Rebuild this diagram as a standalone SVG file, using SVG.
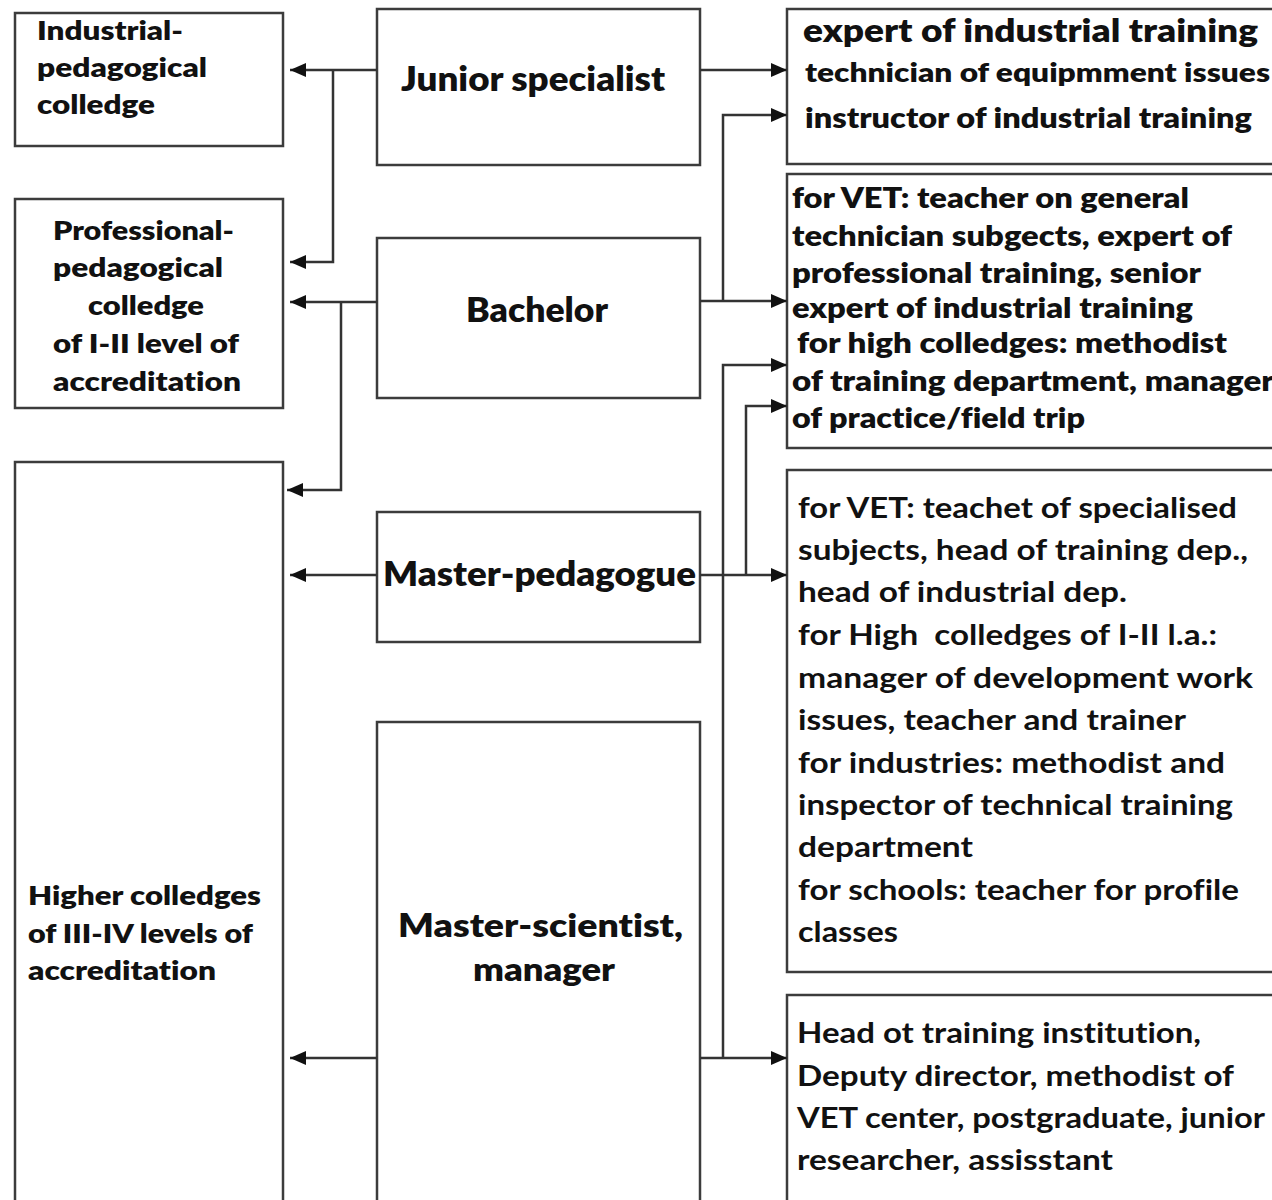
<svg xmlns="http://www.w3.org/2000/svg" width="1272" height="1200" viewBox="0 0 1272 1200">
<style>
.box{fill:#fff;stroke:#3c3c3c;stroke-width:2.5}
.t{font-family:Lato,"Open Sans","Liberation Sans",sans-serif;fill:#111;font-weight:800;font-variant-ligatures:none}
.m{font-weight:700}
.ln{fill:none;stroke:#333;stroke-width:2.5}
</style>
<defs>
<marker id="ah" markerUnits="userSpaceOnUse" markerWidth="18" markerHeight="16" refX="16" refY="7" orient="auto">
<path d="M0,0 L16,7 L0,14 z" fill="#111"/>
</marker>
</defs>
<rect width="1272" height="1200" fill="#fff"/>

<g id="industrial-college">
<rect class="box" x="15" y="13" width="268" height="133"/>
<text class="t" font-size="27"><tspan x="37" y="40" textLength="146" lengthAdjust="spacingAndGlyphs">Industrial-</tspan><tspan x="37" y="77" textLength="170" lengthAdjust="spacingAndGlyphs">pedagogical</tspan><tspan x="37" y="114" textLength="118" lengthAdjust="spacingAndGlyphs">colledge</tspan></text>
</g>

<g id="professional-college">
<rect class="box" x="15" y="199" width="268" height="209"/>
<text class="t" font-size="27"><tspan x="53" y="240" textLength="181" lengthAdjust="spacingAndGlyphs">Professional-</tspan><tspan x="53" y="277" textLength="170" lengthAdjust="spacingAndGlyphs">pedagogical</tspan><tspan x="88" y="315" textLength="116" lengthAdjust="spacingAndGlyphs">colledge</tspan><tspan x="53" y="353" textLength="186" lengthAdjust="spacingAndGlyphs">of I-II level of</tspan><tspan x="53" y="391" textLength="188" lengthAdjust="spacingAndGlyphs">accreditation</tspan></text>
</g>

<g id="higher-colleges">
<rect class="box" x="15" y="462" width="268" height="760"/>
<text class="t" font-size="27"><tspan x="28" y="905" textLength="233" lengthAdjust="spacingAndGlyphs">Higher colledges</tspan><tspan x="28" y="943" textLength="225" lengthAdjust="spacingAndGlyphs">of III-IV levels of</tspan><tspan x="28" y="980" textLength="188" lengthAdjust="spacingAndGlyphs">accreditation</tspan></text>
</g>

<g id="junior-specialist">
<rect class="box" x="377" y="9" width="323" height="156"/>
<text class="t" font-size="33" x="401" y="91" textLength="264" lengthAdjust="spacingAndGlyphs">Junior specialist</text>
</g>

<g id="bachelor">
<rect class="box" x="377" y="238" width="323" height="160"/>
<text class="t" font-size="33" x="466" y="322" textLength="142" lengthAdjust="spacingAndGlyphs">Bachelor</text>
</g>

<g id="master-pedagogue">
<rect class="box" x="377" y="512" width="323" height="130"/>
<text class="t" font-size="33" x="383" y="586" textLength="313" lengthAdjust="spacingAndGlyphs">Master-pedagogue</text>
</g>

<g id="master-scientist">
<rect class="box" x="377" y="722" width="323" height="500"/>
<text class="t" font-size="32"><tspan x="398" y="937" textLength="285" lengthAdjust="spacingAndGlyphs">Master-scientist,</tspan><tspan x="473" y="981" textLength="142" lengthAdjust="spacingAndGlyphs">manager</tspan></text>
</g>

<g id="junior-positions">
<rect class="box" x="787" y="9" width="500" height="155"/>
<text class="t"><tspan x="803" y="42" font-size="32" textLength="455" lengthAdjust="spacingAndGlyphs">expert of industrial training</tspan><tspan x="805" y="82" font-size="26" textLength="465" lengthAdjust="spacingAndGlyphs">technician of equipmment issues</tspan><tspan x="805" y="128" font-size="29" textLength="447" lengthAdjust="spacingAndGlyphs">instructor of industrial training</tspan></text>
</g>

<g id="bachelor-positions">
<rect class="box" x="787" y="174" width="500" height="274"/>
<text class="t" font-size="29"><tspan x="792" y="208" textLength="397" lengthAdjust="spacingAndGlyphs">for VET: teacher on general</tspan><tspan x="792" y="246" textLength="440" lengthAdjust="spacingAndGlyphs">technician subgects, expert of</tspan><tspan x="792" y="283" textLength="409" lengthAdjust="spacingAndGlyphs">professional training, senior</tspan><tspan x="792" y="318" textLength="401" lengthAdjust="spacingAndGlyphs">expert of industrial training</tspan><tspan x="797" y="353" textLength="430" lengthAdjust="spacingAndGlyphs">for high colledges: methodist</tspan><tspan x="792" y="391" textLength="482" lengthAdjust="spacingAndGlyphs">of training department, manager</tspan><tspan x="792" y="428" textLength="293" lengthAdjust="spacingAndGlyphs">of practice/field trip</tspan></text>
</g>

<g id="master-pedagogue-positions">
<rect class="box" x="787" y="470" width="500" height="502"/>
<text class="t m" font-size="29"><tspan x="798" y="518" textLength="439" lengthAdjust="spacingAndGlyphs">for VET: teachet of specialised</tspan><tspan x="798" y="560" textLength="450" lengthAdjust="spacingAndGlyphs">subjects, head of training dep.,</tspan><tspan x="798" y="602" textLength="329" lengthAdjust="spacingAndGlyphs">head of industrial dep.</tspan><tspan x="798" y="645" textLength="419" lengthAdjust="spacingAndGlyphs" xml:space="preserve">for High  colledges of I-II l.a.:</tspan><tspan x="798" y="688" textLength="455" lengthAdjust="spacingAndGlyphs">manager of development work</tspan><tspan x="798" y="730" textLength="388" lengthAdjust="spacingAndGlyphs">issues, teacher and trainer</tspan><tspan x="798" y="773" textLength="427" lengthAdjust="spacingAndGlyphs">for industries: methodist and</tspan><tspan x="798" y="815" textLength="435" lengthAdjust="spacingAndGlyphs">inspector of technical training</tspan><tspan x="798" y="857" textLength="175" lengthAdjust="spacingAndGlyphs">department</tspan><tspan x="798" y="900" textLength="441" lengthAdjust="spacingAndGlyphs">for schools: teacher for profile</tspan><tspan x="798" y="942" textLength="100" lengthAdjust="spacingAndGlyphs">classes</tspan></text>
</g>

<g id="master-scientist-positions">
<rect class="box" x="787" y="995" width="500" height="230"/>
<text class="t m" font-size="29"><tspan x="797" y="1043" textLength="404" lengthAdjust="spacingAndGlyphs">Head ot training institution,</tspan><tspan x="797" y="1086" textLength="437" lengthAdjust="spacingAndGlyphs">Deputy director, methodist of</tspan><tspan x="797" y="1128" textLength="468" lengthAdjust="spacingAndGlyphs">VET center, postgraduate, junior</tspan><tspan x="797" y="1170" textLength="316" lengthAdjust="spacingAndGlyphs">researcher, assisstant</tspan></text>
</g>

<g id="connectors">
<path class="ln" d="M377,70 H290" marker-end="url(#ah)"/>
<path class="ln" d="M333,70 V262 H290" marker-end="url(#ah)"/>
<path class="ln" d="M377,302 H290" marker-end="url(#ah)"/>
<path class="ln" d="M341,302 V490 H287" marker-end="url(#ah)"/>
<path class="ln" d="M377,575 H290" marker-end="url(#ah)"/>
<path class="ln" d="M377,1058 H290" marker-end="url(#ah)"/>
<path class="ln" d="M700,70 H787" marker-end="url(#ah)"/>
<path class="ln" d="M700,301 H787" marker-end="url(#ah)"/>
<path class="ln" d="M723,301 V115 H787" marker-end="url(#ah)"/>
<path class="ln" d="M700,575 H787" marker-end="url(#ah)"/>
<path class="ln" d="M746,575 V406 H787" marker-end="url(#ah)"/>
<path class="ln" d="M700,1058 H787" marker-end="url(#ah)"/>
<path class="ln" d="M723,1058 V365 H787" marker-end="url(#ah)"/>
</g>
</svg>
